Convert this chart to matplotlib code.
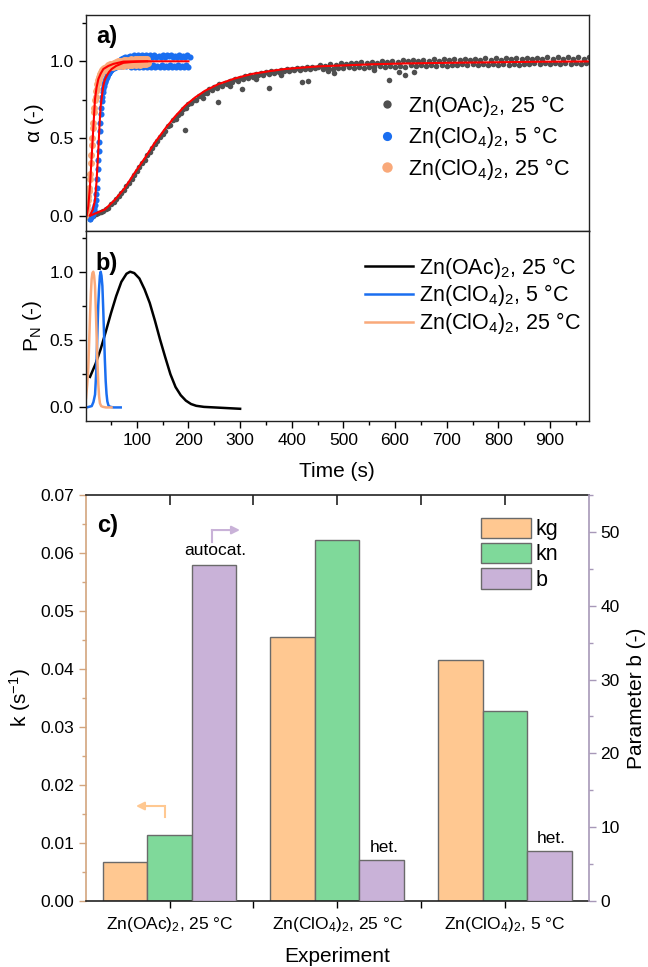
import numpy as np
import matplotlib
matplotlib.use("Agg")
import matplotlib.pyplot as plt
from matplotlib.ticker import MultipleLocator, FixedLocator

plt.rcParams['font.family'] = ['Liberation Sans', 'DejaVu Sans']
plt.rcParams['mathtext.fontset'] = 'custom'
plt.rcParams['mathtext.rm'] = 'Liberation Sans'
plt.rcParams['mathtext.it'] = 'Liberation Sans:italic'
plt.rcParams['mathtext.bf'] = 'Liberation Sans:bold'

# ---------------- data: panel a ----------------
grey_t = np.arange(10, 980, 5)
grey_alpha = [
    -0.02, -0.005, 0.008, 0.018, 0.024, 0.03, 0.04, 0.052, 0.072, 0.088,
    0.108, 0.125, 0.148, 0.168, 0.19, 0.212, 0.238, 0.265, 0.29, 0.316,
    0.34, 0.362, 0.39, 0.412, 0.44, 0.464, 0.486, 0.51, 0.53,
    0.55, 0.578, 0.59, 0.618, 0.628, 0.655, 0.664, 0.69, 0.698, 0.722,
    0.728, 0.75, 0.752, 0.775, 0.776, 0.797, 0.796, 0.818, 0.812, 0.835,
    0.826, 0.85, 0.84, 0.862, 0.852, 0.875, 0.866, 0.884, 0.874, 0.894,
    0.884, 0.903, 0.893, 0.911, 0.9, 0.918, 0.908, 0.925, 0.914, 0.93,
    0.92, 0.935, 0.924, 0.94, 0.93, 0.944, 0.934, 0.948, 0.938, 0.952,
    0.942, 0.955, 0.946, 0.958, 0.948, 0.961, 0.952, 0.963, 0.954, 0.965,
    0.978, 0.948, 0.972, 0.955, 0.985, 0.952, 0.978, 0.958, 0.988, 0.955,
    0.983, 0.96, 0.991, 0.956, 0.986, 0.964, 0.994, 0.958, 0.989, 0.966,
    0.998, 0.961, 0.992, 0.968, 1.002, 0.962, 0.995, 0.97, 1.004, 0.964,
    0.997, 0.972, 1.007, 0.966, 0.999, 0.974, 1.01, 0.968, 1.001, 0.976,
    1.011, 0.969, 1.003, 0.977, 1.013, 0.971, 1.004, 0.978, 1.015, 0.972,
    1.006, 0.979, 1.017, 0.973, 1.007, 0.98, 1.018, 0.974, 1.008, 0.981,
    1.018, 0.975, 1.009, 0.982, 1.02, 0.976, 1.01, 0.983, 1.021, 0.977,
    1.011, 0.984, 1.022, 0.978, 1.012, 0.985, 1.023, 0.979, 1.013, 0.985,
    1.023, 0.98, 1.013, 0.986, 1.024, 0.98, 1.014, 0.987, 1.025, 0.981,
    1.015, 0.987, 1.025, 0.982, 1.015, 0.988, 1.026, 0.982, 1.016, 0.988,
    1.026, 0.983, 1.016, 0.989, 1.026,
]
grey_out_t = [193, 228, 258, 280, 303, 330, 355, 380, 419, 432, 470, 482, 560, 589, 607, 620, 637]
grey_out_alpha = [0.555, 0.76, 0.737, 0.84, 0.82, 0.885, 0.83, 0.91, 0.863, 0.874, 0.935, 0.924,
                  0.945, 0.881, 0.928, 0.913, 0.928]

blue_t = np.arange(10, 204, 2)
blue_alpha = [
    -0.02, -0.01, 0.0, 0.02, 0.05, 0.1, 0.18, 0.3, 0.42, 0.55,
    0.66, 0.74, 0.8, 0.84, 0.865, 0.885, 0.9, 0.915, 0.925, 0.935, 0.945,
    0.95, 0.975, 0.955, 0.985, 0.962, 0.995, 0.968, 1.005, 0.972, 1.015,
    0.97, 1.02, 0.975, 1.03, 0.968, 1.025, 0.978, 1.035, 0.965, 1.03,
    0.975, 1.04, 0.962, 1.03, 0.978, 1.038, 0.965, 1.025, 0.972, 1.04,
    0.96, 1.032, 0.975, 1.04, 0.966, 1.028, 0.97, 1.038, 0.962, 1.03,
    0.976, 1.04, 0.965, 1.025, 0.97, 1.036, 0.96, 1.03, 0.974, 1.04,
    0.964, 1.028, 0.972, 1.038, 0.96, 1.032, 0.975, 1.04, 0.966, 1.026,
    0.97, 1.037, 0.962, 1.03, 0.976, 1.04, 0.965, 1.028, 0.972, 1.036,
    0.962, 1.03, 0.975, 1.038, 0.966, 1.03,
]
blue_rise_t = [15, 17, 19, 21, 23, 25, 27, 29, 31, 33, 35, 37, 39, 41, 43, 45, 47, 49]
blue_rise_alpha = [0.01, 0.035, 0.07, 0.14, 0.24, 0.36, 0.48, 0.6, 0.7, 0.77, 0.82, 0.85,
                   0.875, 0.89, 0.905, 0.92, 0.93, 0.94]

orange_t = np.arange(0, 124, 2)
orange_alpha = [
    0.0, 0.03, 0.07, 0.13, 0.18, 0.27, 0.39, 0.5, 0.6, 0.7,
    0.77, 0.82, 0.86, 0.885, 0.91, 0.915, 0.935, 0.935, 0.955, 0.945, 0.965,
    0.955, 0.975, 0.96, 0.98, 0.962, 0.985, 0.965, 0.99, 0.968, 0.995,
    0.97, 1.0, 0.972, 1.0, 0.975, 1.005, 0.972, 1.008, 0.976, 1.01,
    0.975, 1.01, 0.978, 1.012, 0.976, 1.01, 0.98, 1.015, 0.978, 1.012,
    0.98, 1.015, 0.978, 1.012, 0.982, 1.015, 0.98, 1.012, 0.982, 1.015, 0.99,
]
orange_rise_t = [1, 3, 5, 7, 9, 11, 13, 15, 17, 19, 21, 23, 25, 27, 29, 31, 33, 35]
orange_rise_alpha = [0.01, 0.04, 0.1, 0.16, 0.24, 0.34, 0.46, 0.57, 0.67, 0.75, 0.81,
                     0.855, 0.88, 0.9, 0.92, 0.93, 0.945, 0.95]

fit_grey_t = [10, 19, 38, 58, 77, 96, 116, 135, 155, 174, 193, 213, 232, 258, 290, 323,
              355, 387, 420, 452, 504, 560, 620, 680, 726, 800, 880, 975]
fit_grey_alpha = [0.0, 0.013, 0.039, 0.104, 0.18, 0.278, 0.375, 0.473, 0.564, 0.642, 0.711,
                  0.766, 0.809, 0.852, 0.889, 0.918, 0.935, 0.95, 0.959, 0.967, 0.974,
                  0.981, 0.986, 0.989, 0.991, 0.994, 0.997, 0.999]
fit_blue_t = [9, 15, 19, 22, 25.5, 28, 30, 33, 35, 38, 41.6, 46, 51.3, 60, 74, 90, 119, 160, 200]
fit_blue_alpha = [0.0, 0.04, 0.1, 0.22, 0.43, 0.6, 0.71, 0.79, 0.84, 0.88, 0.905, 0.93,
                  0.95, 0.97, 0.99, 0.995, 1.0, 1.0, 1.0]
fit_orange_t = [3, 6, 9.3, 12, 14.5, 17, 19, 22, 25.5, 30, 35.2, 45, 54.6, 74, 100, 120]
fit_orange_alpha = [0.0, 0.06, 0.19, 0.35, 0.495, 0.64, 0.755, 0.83, 0.885, 0.92, 0.95,
                    0.97, 0.983, 0.998, 1.0, 1.0]

# ---------------- data: panel b ----------------
pn_black_t = [9.3, 20, 30, 40, 50, 60, 70, 80, 87, 95, 105, 115, 125, 135, 145, 155, 165,
              175, 185, 195, 205, 215, 230, 250, 275, 300]
pn_black = [0.225, 0.32, 0.43, 0.56, 0.695, 0.82, 0.925, 0.985, 1.0, 0.99, 0.95, 0.87, 0.77,
            0.64, 0.5, 0.37, 0.245, 0.15, 0.09, 0.05, 0.025, 0.012, 0.004, 0.0, -0.005, -0.01]
pn_blue_t = [3, 12.7, 16, 19.1, 21.5, 23.6, 25.3, 26.8, 28.5, 30, 31.6, 33.3, 35, 36.5, 38,
             39.7, 41.3, 42.9, 45, 48, 55, 68.8]
pn_blue = [0.0, 0.01, 0.04, 0.095, 0.27, 0.545, 0.75, 0.87, 0.97, 1.0, 0.97, 0.895, 0.72,
           0.545, 0.36, 0.195, 0.1, 0.045, 0.015, 0.005, 0.0, 0.0]
pn_orange_t = [1.6, 4, 6.1, 7.7, 9.3, 11, 12.5, 14, 15.7, 17.3, 19, 20.6, 22.2, 23.8, 25.4,
               27, 28.6, 31, 33.8, 40, 51]
pn_orange = [0.07, 0.17, 0.295, 0.48, 0.67, 0.84, 0.945, 0.99, 1.0, 0.97, 0.895, 0.72, 0.52,
             0.33, 0.17, 0.08, 0.03, 0.01, 0.005, 0.0, 0.0]

time_ticks = [100, 200, 300, 400, 500, 600, 700, 800, 900]

# ---------------- data: panel c ----------------
experiments = [r"Zn(OAc)$_2$, 25 °C", r"Zn(ClO$_4$)$_2$, 25 °C", r"Zn(ClO$_4$)$_2$, 5 °C"]
kg = [0.00663, 0.04559, 0.04162]
kn = [0.0114, 0.06223, 0.0327]
b_param = [45.55, 5.56, 6.78]
b_notes = ["", "het.", "het."]

# ---------------- styles ----------------
C_GREY = "#4f4f4f"
C_BLUE = "#1a6ef0"
C_ORANGE = "#f9a97a"
C_RED = "#ff0000"
C_KG = "#ffc891"
C_KN = "#7fd99a"
C_B = "#c9b2d8"
C_LEFT = "#d3a57e"
C_RIGHT = "#a798b8"
EDGE = "#6a6a6a"
TICK_FS = 12.5
LAB_FS = 15
LEG_FS = 15.5

W, H = 648, 967
fig = plt.figure(figsize=(W / 100, H / 100), dpi=100)
L, R = 85.7 / W, 588.7 / W
rect_c = [L, 1 - 900.7 / H, R - L, 405.4 / H]
ax_a = fig.add_axes([L, 1 - 231 / H, R - L, 216 / H])
ax_b = fig.add_axes([L, 1 - 421 / H, R - L, 190 / H])
ax_c = fig.add_axes(rect_c)

for ax in (ax_a, ax_b):
    for s in ax.spines.values():
        s.set_linewidth(1.0)
        s.set_color("#222222")
    ax.set_xlim(1, 975)
    ax.set_ylim(-0.1, 1.3)
    ax.yaxis.set_major_locator(FixedLocator([0.0, 0.5, 1.0]))
    ax.yaxis.set_minor_locator(FixedLocator([0.25, 0.75, 1.25]))
    ax.xaxis.set_major_locator(FixedLocator(time_ticks))
    ax.xaxis.set_minor_locator(MultipleLocator(50))
    ax.tick_params(which='major', direction='out', length=5, width=1.0, labelsize=TICK_FS)
    ax.tick_params(which='minor', direction='out', length=3, width=1.0)
    ax.tick_params(top=False, right=False, which='both')
    ax.yaxis.set_major_formatter(matplotlib.ticker.FormatStrFormatter('%.1f'))

# panel a
ax_a.plot(grey_t, grey_alpha, 'o', ms=4.0, color=C_GREY, mec='none', label=r"Zn(OAc)$_2$, 25 °C")
ax_a.plot(grey_out_t, grey_out_alpha, 'o', ms=4.0, color=C_GREY, mec='none')
ax_a.plot(blue_t, blue_alpha, 'o', ms=4.4, color=C_BLUE, mec='none', label=r"Zn(ClO$_4$)$_2$, 5 °C")
ax_a.plot(blue_rise_t, blue_rise_alpha, 'o', ms=4.4, color=C_BLUE, mec='none')
ax_a.plot(orange_t, orange_alpha, 'o', ms=5.0, color=C_ORANGE, mec='none', label=r"Zn(ClO$_4$)$_2$, 25 °C")
ax_a.plot(orange_rise_t, orange_rise_alpha, 'o', ms=5.0, color=C_ORANGE, mec='none')
ax_a.plot(fit_grey_t, fit_grey_alpha, '-', color=C_RED, lw=1.5)
ax_a.plot(fit_blue_t, fit_blue_alpha, '-', color=C_RED, lw=1.5)
ax_a.plot(fit_orange_t, fit_orange_alpha, '-', color=C_RED, lw=1.5)
ax_a.tick_params(axis='x', labelbottom=False)
ax_a.set_ylabel("α (-)", fontsize=LAB_FS, labelpad=4)
ax_a.text(0.02, 0.955, "a)", transform=ax_a.transAxes, fontsize=17, fontweight='bold', va='top', ha='left')
ax_a.legend(loc='upper left', bbox_to_anchor=(0.577, 0.64), frameon=False, fontsize=LEG_FS,
            handlelength=1.0, handletextpad=0.5, labelspacing=0.25, borderpad=0, borderaxespad=0,
            markerscale=1.5)

# panel b
ax_b.plot(pn_black_t, pn_black, '-', color='black', lw=1.8, label=r"Zn(OAc)$_2$, 25 °C")
ax_b.plot(pn_blue_t, pn_blue, '-', color=C_BLUE, lw=1.8, label=r"Zn(ClO$_4$)$_2$, 5 °C")
ax_b.plot(pn_orange_t, pn_orange, '-', color=C_ORANGE, lw=1.8, label=r"Zn(ClO$_4$)$_2$, 25 °C")
ax_b.set_ylabel(r"P$_\mathrm{N}$ (-)", fontsize=LAB_FS, labelpad=4)
ax_b.set_xlabel("Time (s)", fontsize=LAB_FS, labelpad=10)
ax_b.text(0.02, 0.89, "b)", transform=ax_b.transAxes, fontsize=17, fontweight='bold', va='top', ha='left')
ax_b.legend(loc='upper left', bbox_to_anchor=(0.555, 0.875), frameon=False, fontsize=LEG_FS,
            handlelength=2.25, handletextpad=0.25, labelspacing=0.08, borderpad=0, borderaxespad=0)

# panel c
x = np.arange(1, len(experiments) + 1)
w = 0.266
ax_c2 = ax_c.twinx()
bars_kg = ax_c.bar(x - w, kg, w, color=C_KG, edgecolor=EDGE, linewidth=1.0, label="kg")
bars_kn = ax_c.bar(x, kn, w, color=C_KN, edgecolor=EDGE, linewidth=1.0, label="kn")
bars_b = ax_c2.bar(x + w, b_param, w, color=C_B, edgecolor=EDGE, linewidth=1.0, label="b")
ax_c.set_xlim(0.5, 3.5)
ax_c.set_ylim(0, 0.07)
ax_c2.set_ylim(0, 55)
ax_c.set_xticks(x)
ax_c.set_xticklabels(experiments, fontsize=TICK_FS)
ax_c.xaxis.set_minor_locator(FixedLocator([1.5, 2.5]))
ax_c.tick_params(axis='x', which='both', direction='out', length=5, width=1.0, pad=5,
                 top=False, bottom=True)
ax_c.yaxis.set_major_locator(MultipleLocator(0.01))
ax_c.yaxis.set_minor_locator(MultipleLocator(0.005))
ax_c.yaxis.set_major_formatter(matplotlib.ticker.FormatStrFormatter('%.2f'))
ax_c.tick_params(axis='y', which='major', direction='out', length=5, width=1.0, color=C_LEFT, labelsize=TICK_FS)
ax_c.tick_params(axis='y', which='minor', direction='out', length=3, width=1.0, color=C_LEFT)
ax_c2.yaxis.set_major_locator(MultipleLocator(10))
ax_c2.yaxis.set_minor_locator(MultipleLocator(5))
ax_c2.tick_params(axis='y', which='major', direction='out', length=5, width=1.0, color=C_RIGHT, labelsize=TICK_FS)
ax_c2.tick_params(axis='y', which='minor', direction='out', length=3, width=1.0, color=C_RIGHT)
for s in ('top', 'bottom'):
    ax_c.spines[s].set_linewidth(1.2)
    ax_c.spines[s].set_color('#222222')
ax_c.spines['left'].set_color(C_LEFT)
ax_c.spines['left'].set_linewidth(1.2)
ax_c.spines['right'].set_visible(False)
ax_c2.spines['left'].set_visible(False)
ax_c2.spines['top'].set_visible(False)
ax_c2.spines['bottom'].set_visible(False)
ax_c2.spines['right'].set_color(C_RIGHT)
ax_c2.spines['right'].set_linewidth(1.2)

# overlay axes carrying only the inward ticks of the top frame
ax_top = fig.add_axes(rect_c, facecolor='none')
ax_top.set_xlim(0.5, 3.5)
ax_top.set_xticks(x)
ax_top.xaxis.set_minor_locator(FixedLocator([1.5, 2.5]))
ax_top.tick_params(axis='x', which='both', direction='in', length=7, width=1.2, color='#222222',
                   top=True, bottom=False, labeltop=False, labelbottom=False)
ax_top.tick_params(axis='y', left=False, right=False, labelleft=False)
for s in ax_top.spines.values():
    s.set_visible(False)

ax_c.set_ylabel(r"k (s$^{-1}$)", fontsize=LAB_FS, labelpad=5)
ax_c2.set_ylabel("Parameter b (-)", fontsize=LAB_FS, labelpad=5)
ax_c.set_xlabel("Experiment", fontsize=LAB_FS, labelpad=10)
ax_c.text(0.022, 0.955, "c)", transform=ax_c.transAxes, fontsize=17, fontweight='bold', va='top', ha='left')

for xi, bv, note in zip(x, b_param, b_notes):
    if note:
        ax_c2.text(xi + w * 1.05, bv + 1.6, note, ha='center', va='center', fontsize=TICK_FS)
ax_c.text(1.273, 0.0604, "autocat.", ha='center', va='center', fontsize=TICK_FS)
# axis indicator arrows
ax_c.plot([1.253, 1.253], [0.0620, 0.0640], color=C_B, lw=1.5)
ax_c.annotate("", xy=(1.42, 0.0640), xytext=(1.252, 0.0640),
              arrowprops=dict(arrowstyle='-|>', color=C_B, lw=1.5, mutation_scale=12, shrinkA=0, shrinkB=0))
ax_c.plot([0.971, 0.971], [0.0145, 0.01635], color=C_KG, lw=1.5)
ax_c.annotate("", xy=(0.80, 0.01635), xytext=(0.972, 0.01635),
              arrowprops=dict(arrowstyle='-|>', color=C_KG, lw=1.5, mutation_scale=12, shrinkA=0, shrinkB=0))

ax_top.legend(handles=[bars_kg, bars_kn, bars_b], loc='upper left', bbox_to_anchor=(0.786, 0.945),
              frameon=False, fontsize=LEG_FS, handlelength=2.3, handleheight=1.1,
              handletextpad=0.25, labelspacing=0.12, borderpad=0, borderaxespad=0)

fig.savefig("out.png", dpi=100)
